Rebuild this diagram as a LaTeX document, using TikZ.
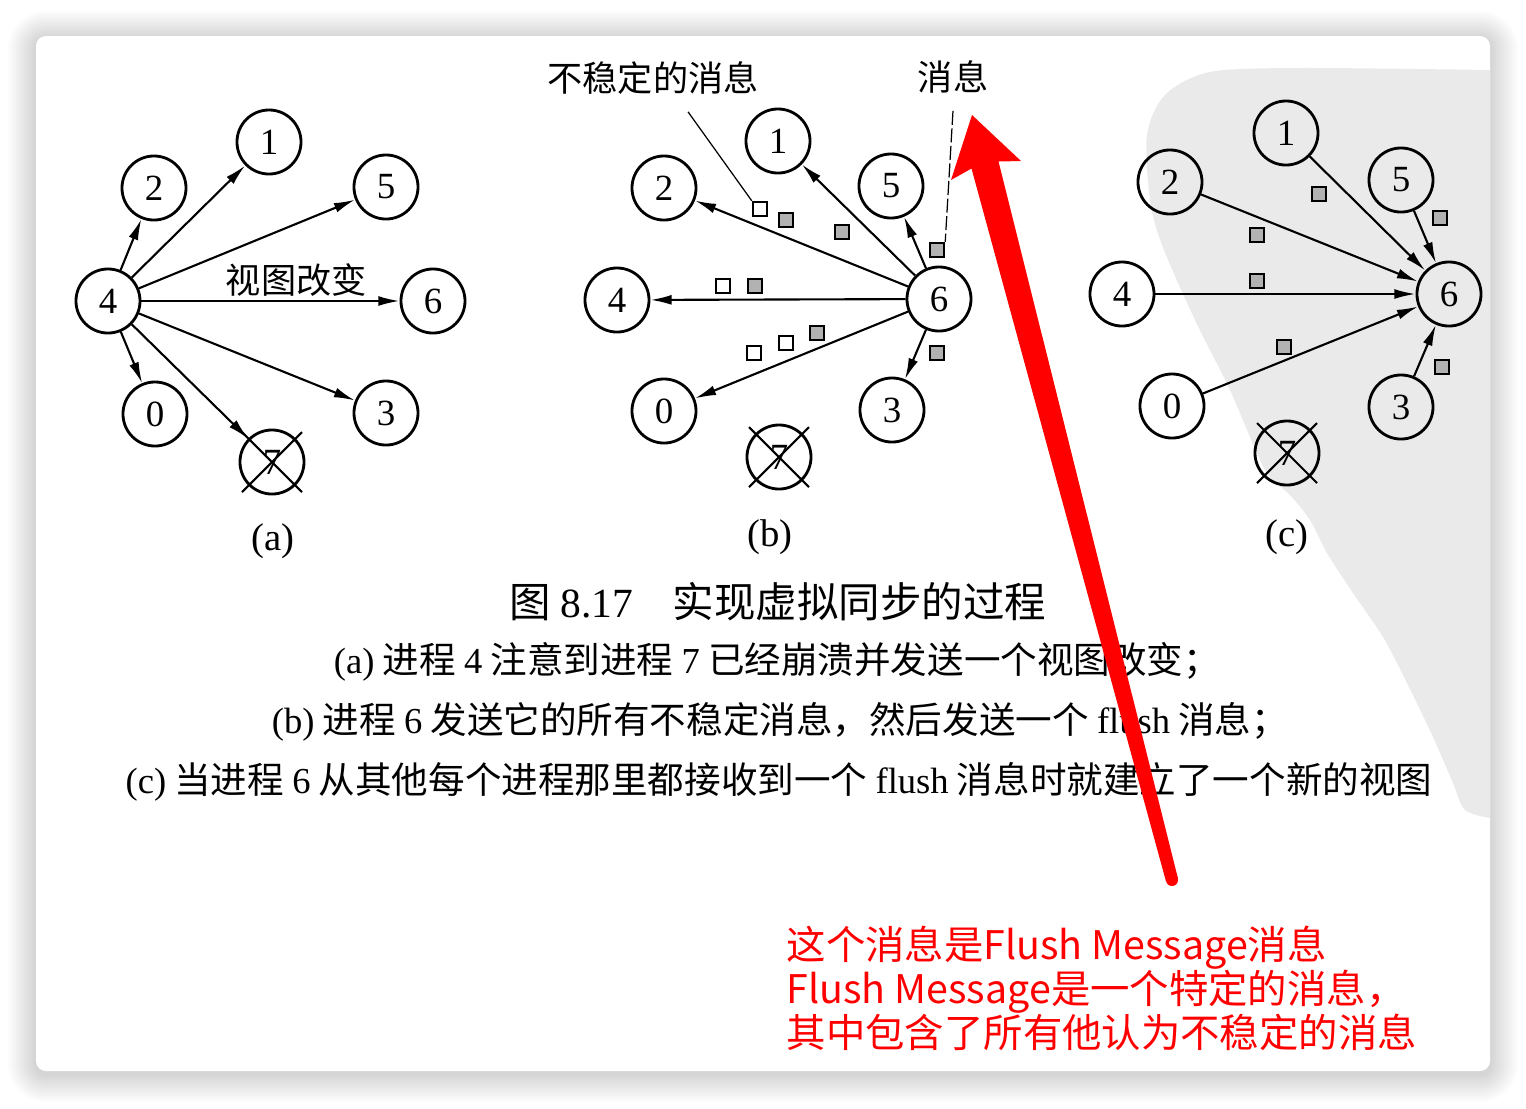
\documentclass[tikz,border=0pt]{standalone}
\usepackage{fontspec}
\setmainfont{Liberation Serif}
\newfontfamily\cjk{Noto Sans CJK SC}
\usepackage{xcolor}
\usetikzlibrary{arrows.meta}
\definecolor{blobgray}{HTML}{EAEAEA}
\definecolor{notered}{HTML}{FF0000}
\newcommand\latn[1]{{\rmfamily #1}}
\newcommand\crashx[1]{\draw[line width=0.6pt] (#1.center) ++(-30,-30) -- ++(60,60) (#1.center) ++(30,-30) -- ++(-60,60);}
\tikzset{
  proc/.style={circle,draw,line width=0.8pt,minimum size=0.64cm,inner sep=0pt,font=\fontsize{10.5}{12}\selectfont},
  link/.style={line width=0.6pt,-{Latex[length=6pt,width=2.8pt]}},
  msgo/.style={draw,fill=white,line width=0.7pt,minimum size=0.14cm,inner sep=0pt},
  msgf/.style={msgo,fill=gray!60},
  zh/.style={font=\cjk\fontsize{10}{12}\selectfont},
  leader/.style={line width=0.35pt},
  sublabel/.style={font=\fontsize{11}{13}\selectfont},
  capline/.style={font=\cjk\fontsize{10.4}{12}\selectfont},
}

\begin{document}
\begin{tikzpicture}[x=0.01cm,y=-0.01cm]
\useasboundingbox (0,0) rectangle (1526,1108);
\fill[white] (0,0) rectangle (1526,1108);
\foreach \i [evaluate=\i as \rc using 0.1+0.02*\i] in {1,...,14}
  \fill[black,opacity=0.012,rounded corners=\rc cm] (36-2*\i,36-2*\i+3) rectangle (1490+2*\i,1071+2*\i+3);
\fill[white,rounded corners=0.1cm] (36,36) rectangle (1490,1071);
\fill[blobgray] plot[smooth] coordinates {(1490,70) (1300,68) (1210,72) (1165,95) (1147,135) (1150,200) (1162,245) (1195,320) (1230,390) (1265,470) (1290,495) (1310,520) (1327,553) (1353,593) (1383,637) (1407,683) (1433,737) (1453,783) (1465,810) (1490,818)} -- cycle;

% (a)
\node[proc] (a4) at (108,301) {4};
\node[proc] (a2) at (154,188) {2};
\node[proc] (a1) at (269,142) {1};
\node[proc] (a5) at (386,187) {5};
\node[proc] (a6) at (433,301) {6};
\node[proc] (a0) at (155,414) {0};
\node[proc] (a3) at (386,413) {3};
\node[proc] (a7) at (272,462) {7};
\crashx{a7}
\draw[link] (a4) -- (a2);
\draw[link] (a4) -- (a1);
\draw[link] (a4) -- (a5);
\draw[link] (a4) -- node[zh,above,pos=0.6,inner sep=1pt] (vc) {视图改变} (a6);
\draw[link] (a4) -- (a3);
\draw[link] (a4) -- (a0);
\draw[link] (a4) -- (a7);
\node[sublabel] (capa) at (273,541) {(a)};

% (b)
\node[proc] (b1) at (778,141) {1};
\node[proc] (b2) at (664,188) {2};
\node[proc] (b5) at (891,186) {5};
\node[proc] (b4) at (617,300) {4};
\node[proc] (b6) at (939,299) {6};
\node[proc] (b0) at (664,411) {0};
\node[proc] (b3) at (892,410) {3};
\node[proc] (b7) at (779,457) {7};
\crashx{b7}
\draw[link] (b6) -- (b2);
\draw[link] (b6) -- (b1);
\draw[link] (b6) -- (b5);
\draw[link] (b6) -- (b4);
\draw[link] (b6) -- (b0);
\draw[link] (b6) -- (b3);
\node[msgo] (bs1) at (760,209) {};
\node[msgf] (bs2) at (786,220) {};
\node[msgf] (bs3) at (842,232) {};
\node[msgf] (bs4) at (937,250) {};
\node[msgo] (bs5) at (723,286) {};
\node[msgf] (bs6) at (755,286) {};
\node[msgo] (bs7) at (754,353) {};
\node[msgo] (bs8) at (786,343) {};
\node[msgf] (bs9) at (817,333) {};
\node[msgf] (bs10) at (937,353) {};
\node[zh] (unstable) at (653,78) {不稳定的消息};
\node[zh] (msglbl) at (953,77) {消息};
\draw[leader] ([xshift=0.35cm,yshift=-0.05cm]unstable.south) -- (bs1.north west);
\draw[leader,dash pattern=on 4pt off 1pt] ([yshift=-0.05cm]msglbl.south) -- (bs4.north east);
\node[sublabel] (capb) at (770,537) {(b)};

% (c)
\node[proc] (c1) at (1286,133) {1};
\node[proc] (c2) at (1170,182) {2};
\node[proc] (c5) at (1401,180) {5};
\node[proc] (c4) at (1122,294) {4};
\node[proc] (c6) at (1449,294) {6};
\node[proc] (c0) at (1172,406) {0};
\node[proc] (c3) at (1401,407) {3};
\node[proc] (c7) at (1287,453) {7};
\crashx{c7}
\draw[link] (c2) -- (c6);
\draw[link] (c1) -- (c6);
\draw[link] (c5) -- (c6);
\draw[link] (c4) -- (c6);
\draw[link] (c0) -- (c6);
\draw[link] (c3) -- (c6);
\node[msgf] (cs1) at (1319,194) {};
\node[msgf] (cs2) at (1257,235) {};
\node[msgf] (cs3) at (1257,281) {};
\node[msgf] (cs4) at (1284,347) {};
\node[msgf] (cs5) at (1440,218) {};
\node[msgf] (cs6) at (1442,367) {};
\node[sublabel] (capc) at (1287,537) {(c)};

% caption
\node[font=\cjk\fontsize{11.8}{14}\selectfont] (title) at (778,602) {图 \latn{8.17}\hspace{0.4cm}实现虚拟同步的过程};
\node[capline] (linea) at (777,662) {\latn{(a)} 进程 \latn{4} 注意到进程 \latn{7} 已经崩溃并发送一个视图改变；};
\node[capline] (lineb) at (780,722) {\latn{(b)} 进程 \latn{6} 发送它的所有不稳定消息，然后发送一个 \latn{flush} 消息；};
\node[capline] (linec) at (779,782) {\latn{(c)} 当进程 \latn{6} 从其他每个进程那里都接收到一个 \latn{flush} 消息时就建立了一个新的视图};

% annotation
\fill[notered] (972,115) -- (1021,161) -- (998.5,161.5) -- (1178,878.5) -- (1166,881.5) -- (971.5,168.5) -- (951,180) -- cycle;
\fill[notered] (1172,880) circle (0.06cm);
\node[anchor=west,align=left,inner sep=0pt,text=notered,font=\cjk\fontsize{11.2}{12.5}\selectfont] (note) at (786,988) {这个消息是Flush Message消息\\Flush Message是一个特定的消息，\\其中包含了所有他认为不稳定的消息};
\end{tikzpicture}
\end{document}
